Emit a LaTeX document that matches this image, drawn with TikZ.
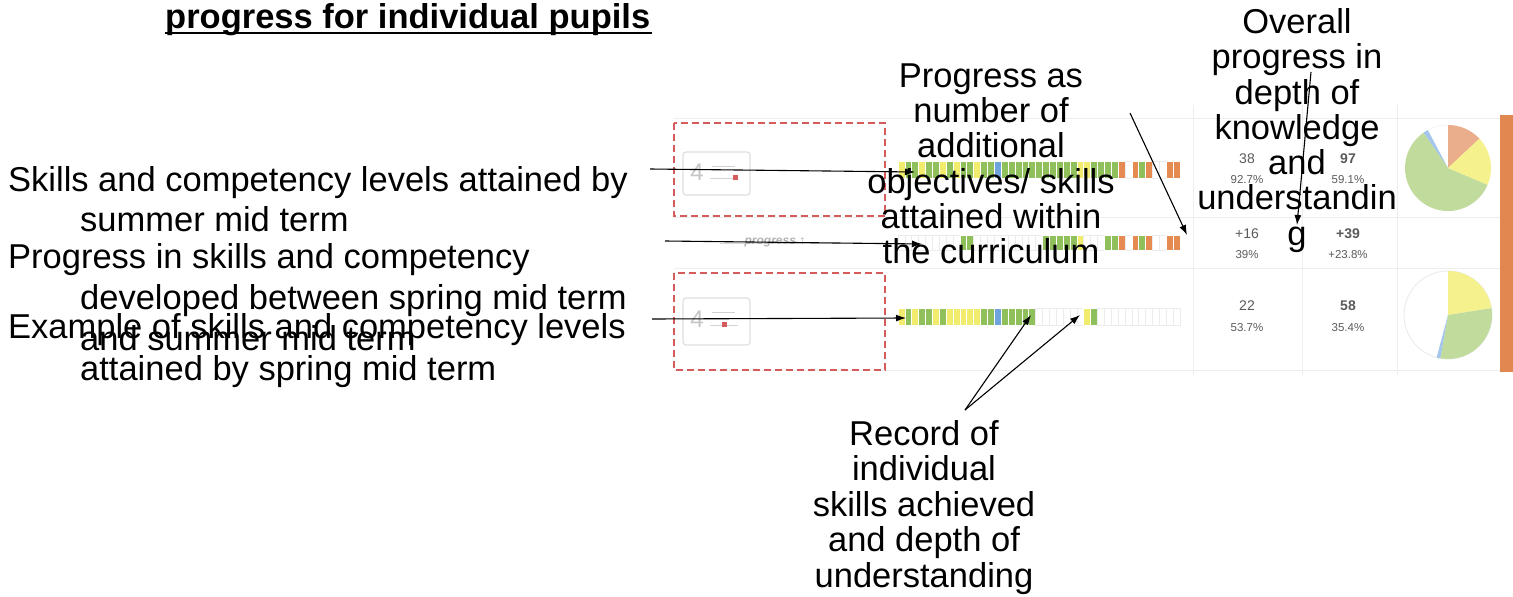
\documentclass[tikz,border=0pt]{standalone}
\usepackage{fontspec}
\setmainfont{Liberation Sans}
\newfontfamily\symfont{DejaVu Sans}
\usetikzlibrary{arrows.meta}
\definecolor{cy}{HTML}{F2EC6E}
\definecolor{cg}{HTML}{8FC05C}
\definecolor{cb}{HTML}{6FA3DC}
\definecolor{co}{HTML}{E58B52}
\definecolor{py}{HTML}{F5F28E}
\definecolor{pg}{HTML}{C0DB9C}
\definecolor{pb}{HTML}{A3C6EA}
\definecolor{po}{HTML}{EBAE8C}
\definecolor{redbox}{HTML}{D65C5C}
\definecolor{gridc}{HTML}{EEEEEE}
\definecolor{numc}{HTML}{5A5A5A}
\definecolor{sidebar}{HTML}{E0884F}
\begin{document}
\begin{tikzpicture}[x=1pt,y=-1pt,
  big/.style={font=\fontsize{34.5}{40}\selectfont, inner sep=0pt},
  lbl/.style={big, anchor=base west},
  ctr/.style={big, anchor=base},
  arr/.style={-{Latex[length=10pt,width=7pt]}, line width=1.1pt, black},
  celly/.style={fill=cy, draw=white, line width=0.6pt},
  cellg/.style={fill=cg, draw=white, line width=0.6pt},
  cellb/.style={fill=cb, draw=white, line width=0.6pt},
  cello/.style={fill=co, draw=white, line width=0.6pt},
  cellw/.style={fill=white, draw=gray!15, line width=0.6pt},
  grid/.style={draw=gridc, line width=1pt},
  redd/.style={draw=redbox, line width=2.2pt, dash pattern=on 7pt off 4pt},
  numa/.style={font=\fontsize{14}{14}\selectfont, text=numc, inner sep=0pt},
  numb/.style={font=\bfseries\fontsize{14}{14}\selectfont, text=numc, inner sep=0pt},
  pct/.style={font=\fontsize{11.5}{11.5}\selectfont, text=numc, inner sep=0pt},
  smallbox/.style={draw=gray!25, line width=1.2pt, rounded corners=3pt}
]
\useasboundingbox (0,0) rectangle (1513,597);

% title
\node[lbl, font=\bfseries\fontsize{34.5}{40}\selectfont] (title) at (165,28) {progress for individual pupils};
\draw[line width=2.2pt] (title.base west) ++(0,5) -- ++(487,0);

% grid
\foreach \yy in {118,217,268,370} \draw[grid] (674,\yy) -- (1500,\yy);
\foreach \xx in {1193,1302,1397} \draw[grid] (\xx,105) -- (\xx,375);
\fill[sidebar] (1500,115) rectangle (1513,372);

% red dashed boxes
\draw[redd] (674,123) rectangle (885,216);
\draw[redd] (674,273) rectangle (885,370);

% small "4" boxes
\draw[smallbox] (683,152) rectangle (750,195);
\node[font=\fontsize{24}{24}\selectfont, text=gray!45, inner sep=0pt] (four1) at (697,172) {4};
\draw[gray!35, line width=1pt] (712,166) -- (735,166) (710,178) -- (738,178);
\fill[redbox] (733,175) rectangle (738,180);
\draw[smallbox] (683,298) rectangle (750,345);
\node[font=\fontsize{24}{24}\selectfont, text=gray!45, inner sep=0pt] (four2) at (697,319) {4};
\draw[gray!35, line width=1pt] (712,312) -- (735,312) (710,325) -- (738,325);
\fill[redbox] (722,322) rectangle (727,327);

% progress label
\draw[gray!30, line width=1pt] (720,243) -- (840,243);
\node[font=\itshape\bfseries\fontsize{12}{12}\selectfont, text=gray!60, inner sep=0pt] (prog) at (775,242) {progress {\symfont\normalfont ↕}};

% bars
\foreach \c [count=\i from 0] in {y,g,g,y,g,g,y,g,y,g,g,y,g,g,b,g,g,g,g,g,g,g,g,g,g,g,y,y,g,g,g,g,o,w,o,g,o,w,w,o,o}
  \path[cell\c] (898+\i*6.878,161) rectangle ++(6.878,17);
\foreach \c [count=\i from 0] in {w,w,w,w,w,w,w,w,w,g,g,w,w,w,w,w,w,w,w,w,w,g,g,g,g,g,y,w,w,w,g,g,o,w,o,g,o,w,w,o,o}
  \path[cell\c] (898+\i*6.878,235) rectangle ++(6.878,15);
\foreach \c [count=\i from 0] in {y,g,y,g,g,y,g,y,y,y,y,y,g,g,b,g,g,g,g,g,w,w,w,w,w,w,w,y,g,w,w,w,w,w,w,w,w,w,w,w,w}
  \path[cell\c] (898+\i*6.878,308) rectangle ++(6.878,17);

% numbers
\node[numa] (n1) at (1247,159) {38};
\node[pct] (p1) at (1247,180) {92.7\%};
\node[numb] (n2) at (1348,159) {97};
\node[pct] (p2) at (1348,180) {59.1\%};
\node[numa] (n3) at (1247,234) {+16};
\node[pct] (p3) at (1247,255) {39\%};
\node[numb] (n4) at (1348,234) {+39};
\node[pct] (p4) at (1348,255) {+23.8\%};
\node[numa] (n5) at (1247,306) {22};
\node[pct] (p5) at (1247,328) {53.7\%};
\node[numb] (n6) at (1348,306) {58};
\node[pct] (p6) at (1348,328) {35.4\%};

% pie 1
\begin{scope}[shift={(1448,168)}, x=1pt, y=1pt]
  \fill[po] (0,0) -- (43:43) arc[start angle=43, end angle=90, radius=43pt] -- cycle;
  \fill[pb] (0,0) -- (118:43) arc[start angle=118, end angle=125, radius=43pt] -- cycle;
  \fill[pg] (0,0) -- (125:43) arc[start angle=125, end angle=337, radius=43pt] -- cycle;
  \fill[py] (0,0) -- (337:43) arc[start angle=337, end angle=403, radius=43pt] -- cycle;
  \draw[gray!12, line width=0.6pt] (90:43) arc[start angle=90, end angle=118, radius=43pt];
\end{scope}
% pie 2
\begin{scope}[shift={(1448,315)}, x=1pt, y=1pt]
  \draw[gray!15, line width=1pt] (0,0) circle[radius=44pt];
  \fill[py] (0,0) -- (9:44) arc[start angle=9, end angle=90, radius=44pt] -- cycle;
  \fill[pg] (0,0) -- (260:44) arc[start angle=260, end angle=369, radius=44pt] -- cycle;
  \fill[pb] (0,0) -- (255:44) arc[start angle=255, end angle=260, radius=44pt] -- cycle;
\end{scope}

% left labels
\node[lbl] (l1a) at (8,191) {Skills and competency levels attained by};
\node[lbl] (l1b) at (80,231) {summer mid term};
\node[lbl] (l2a) at (8,268) {Progress in skills and competency};
\node[lbl] (l2b) at (80,309) {developed between spring mid term};
\node[lbl] (l2c) at (80,350) {and summer mid term};
\node[lbl] (l3a) at (8,338) {Example of skills and competency levels};
\node[lbl] (l3b) at (80,380) {attained by spring mid term};

% middle label
\node[ctr] (m1) at (991,87) {Progress as};
\node[ctr] (m2) at (991,122) {number of};
\node[ctr] (m3) at (991,157) {additional};
\node[ctr] (m4) at (991,193) {objectives/ skills};
\node[ctr] (m5) at (991,228) {attained within};
\node[ctr] (m6) at (991,263) {the curriculum};

% overall label
\node[ctr] (o1) at (1297,33) {Overall};
\node[ctr] (o2) at (1297,68) {progress in};
\node[ctr] (o3) at (1297,104) {depth of};
\node[ctr] (o4) at (1297,139) {knowledge};
\node[ctr] (o5) at (1297,174) {and};
\node[ctr] (o6) at (1297,209) {understandin};
\node[ctr] (o7) at (1297,245) {g};

% bottom label
\node[ctr] (b1) at (924,445) {Record of};
\node[ctr] (b2) at (924,480) {individual};
\node[ctr] (b3) at (924,516) {skills achieved};
\node[ctr] (b4) at (924,551) {and depth of};
\node[ctr] (b5) at (924,587) {understanding};

% arrow end points
\coordinate (a1s) at (650,169);
\coordinate (a1e) at (915,172);
\coordinate (a2s) at (665,241);
\coordinate (a2e) at (922,244);
\coordinate (a3s) at (652,319);
\coordinate (a3e) at (906,318);
\coordinate (a4s) at (1130,113);
\coordinate (a4e) at (1187,235);
\coordinate (a5s) at (1311,72);
\coordinate (a5e) at (1297,225);
\coordinate (a6s) at (965,410);
\coordinate (a6e) at (1031,315);
\coordinate (a7e) at (1080,315);

\draw[arr] (a1s) -- (a1e);
\draw[arr] (a2s) -- (a2e);
\draw[arr] (a3s) -- (a3e);
\draw[arr] (a4s) -- (a4e);
\draw[arr] (a5s) -- (a5e);
\draw[arr] (a6s) -- (a6e);
\draw[arr] (a6s) -- (a7e);
\end{tikzpicture}
\end{document}
